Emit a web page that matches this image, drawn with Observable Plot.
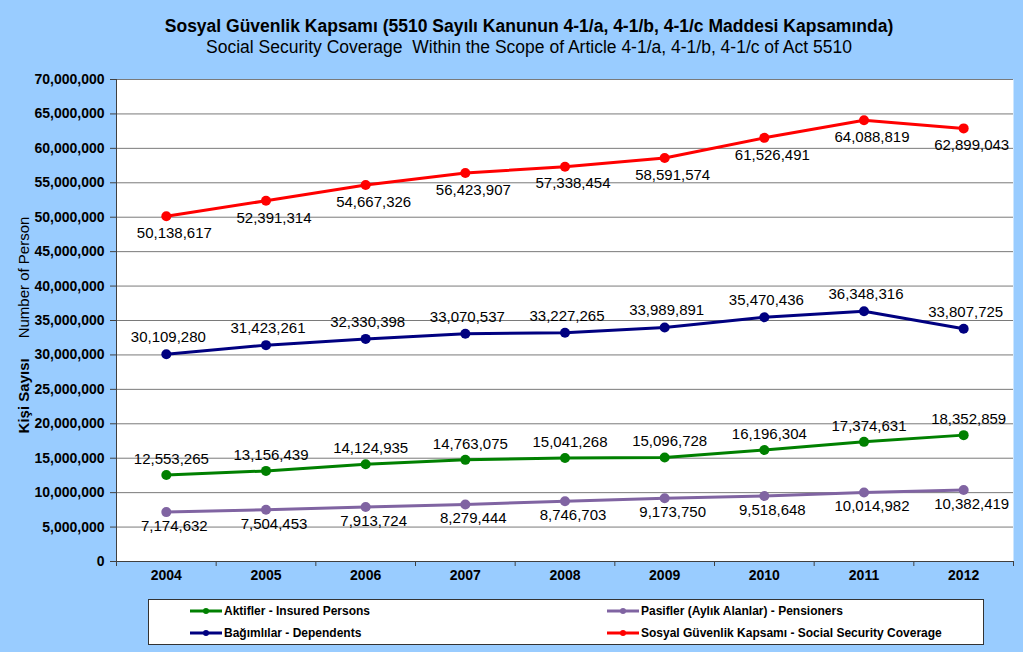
<!DOCTYPE html>
<html>
<head>
<meta charset="utf-8">
<script src="https://cdn.jsdelivr.net/npm/d3@7"></script>
<script src="https://cdn.jsdelivr.net/npm/@observablehq/plot@0.6"></script>
<style>
  html, body { margin: 0; padding: 0; }
  body { width: 1023px; height: 652px; background: #99CCFF; position: relative; overflow: hidden;
         font-family: "Liberation Sans", Arial, sans-serif; }
  #chart { position: absolute; left: 0; top: 0; }
  .title { position: absolute; left: 0; width: 1058px; text-align: center; color: #000; white-space: nowrap; }
  #t1 { top: 16px; font-size: 17.5px; font-weight: bold; }
  #t2 { top: 37px; font-size: 17.5px; }
  #ylab { position: absolute; left: 23px; top: 325px; transform: translate(-50%, -50%) rotate(-90deg);
          white-space: nowrap; font-size: 15px; color: #000; }
  #legend { position: absolute; left: 148px; top: 599px; width: 836px; height: 46px; background: #fff;
            border: 1px solid #333; box-sizing: border-box; }
  .item { position: absolute; display: flex; align-items: center; font-size: 12px; font-weight: bold; white-space: nowrap; }
  .item svg { margin-right: 2px; }
</style>
</head>
<body>
<div id="chart"></div>
<div class="title" id="t1">Sosyal Güvenlik Kapsamı (5510 Sayılı Kanunun 4-1/a, 4-1/b, 4-1/c Maddesi Kapsamında)</div>
<div class="title" id="t2">Social Security Coverage&nbsp; Within the Scope of Article 4-1/a, 4-1/b, 4-1/c of Act 5510</div>
<div id="ylab"><b>Kişi Sayısı</b><span style="margin-left:20px">Number of Person</span></div>
<div id="legend"></div>
<script>
// ---- data ----
const years = [2004, 2005, 2006, 2007, 2008, 2009, 2010, 2011, 2012];
const aktifler = [12553265, 13156439, 14124935, 14763075, 15041268, 15096728, 16196304, 17374631, 18352859];
const pasifler = [7174632, 7504453, 7913724, 8279444, 8746703, 9173750, 9518648, 10014982, 10382419];
const bagimlilar = [30109280, 31423261, 32330398, 33070537, 33227265, 33989891, 35470436, 36348316, 33807725];
const kapsam = [50138617, 52391314, 54667326, 56423907, 57338454, 58591574, 61526491, 64088819, 62899043];
const yTicks = [0, 5000000, 10000000, 15000000, 20000000, 25000000, 30000000, 35000000, 40000000, 45000000, 50000000, 55000000, 60000000, 65000000, 70000000];
const seriesNames = ["Aktifler - Insured Persons", "Pasifler (Aylık Alanlar) - Pensioners", "Bağımlılar - Dependents", "Sosyal Güvenlik Kapsamı - Social Security Coverage"];

// ---- styling per series ----
const series = [
  {name: seriesNames[0], values: aktifler, color: "#008000", dx: 5, dy: -16},
  {name: seriesNames[1], values: pasifler, color: "#8064A2", dx: 8, dy: 14},
  {name: seriesNames[2], values: bagimlilar, color: "#000080", dx: 2, dy: -17},
  {name: seriesNames[3], values: kapsam, color: "#FF0000", dx: 8, dy: 17}
];

const fmt = d3.format(",");
const xDomain = [years[0] - 0.5, years[years.length - 1] + 0.5];
const boundaries = [xDomain[0], ...years.map(y => y + 0.5)];

const marks = [
  Plot.frame({fill: "white", stroke: "none"}),
  Plot.gridY(yTicks, {stroke: "#7a7a7a", strokeOpacity: 1, strokeWidth: 1}),
  Plot.ruleY([0], {stroke: "#404040"}),
  Plot.ruleX([xDomain[0]], {stroke: "#404040"}),
  Plot.axisY(yTicks, {tickFormat: fmt, tickSize: 6, tickPadding: 6, fontSize: 14, fontWeight: "bold", fill: "black", stroke: "#404040", label: null}),
  Plot.axisX(years, {tickSize: 0, tickPadding: 9, tickFormat: "d", fontSize: 14, fontWeight: "bold", fill: "black", label: null}),
  Plot.axisX(boundaries, {tickSize: 5, fill: "none", stroke: "#404040", label: null})
];
for (const s of series) {
  const rows = years.map((y, i) => ({year: y, value: s.values[i]}));
  marks.push(Plot.line(rows, {x: "year", y: "value", stroke: s.color, strokeWidth: 3}));
  marks.push(Plot.dot(rows, {x: "year", y: "value", fill: s.color, r: 5}));
  marks.push(Plot.text(rows, {x: "year", y: "value", text: d => fmt(d.value), dx: s.dx, dy: s.dy, fontSize: 15, fill: "black"}));
}

const chart = Plot.plot({
  width: 1023,
  height: 652,
  marginTop: 79,
  marginBottom: 91,
  marginLeft: 116,
  marginRight: 10,
  x: {type: "linear", domain: xDomain, axis: null, label: null},
  y: {domain: [0, 70000000], axis: null, label: null},
  style: {background: "transparent", fontFamily: "'Liberation Sans', Arial, sans-serif", overflow: "visible"},
  marks
});
document.getElementById("chart").appendChild(chart);

// ---- legend ----
const legend = document.getElementById("legend");
const positions = [[41, 12], [458, 12], [41, 34], [458, 34]];
series.forEach((s, i) => {
  const it = document.createElement("div");
  it.className = "item";
  it.style.left = positions[i][0] + "px";
  it.style.top = (positions[i][1] - 8) + "px";
  it.innerHTML = `<svg width="32" height="10"><line x1="0" y1="5" x2="32" y2="5" stroke="${s.color}" stroke-width="3"/><circle cx="16" cy="5" r="3" fill="${s.color}"/></svg>${s.name}`;
  legend.appendChild(it);
});
</script>
</body>
</html>
